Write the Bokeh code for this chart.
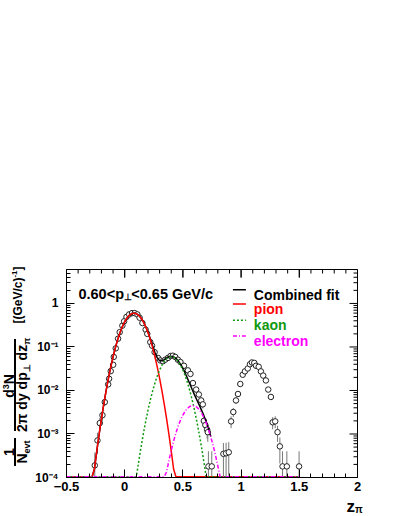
import math
from bokeh.plotting import figure
from bokeh.layouts import row, column
from bokeh.models import Range1d, FixedTicker, Label, Arrow, Div
from bokeh.core.properties import value
from bokeh.embed import file_html
from bokeh.resources import INLINE

# ---------------- data ----------------
z_data = [-0.257, -0.234, -0.214, -0.191, -0.171, -0.142, -0.134, -0.120, -0.099, -0.094,
          -0.077, -0.057, -0.043, -0.020, -0.005, 0.015, 0.038, 0.063, 0.086, 0.109,
          0.128, 0.152, 0.180, 0.194, 0.220, 0.235, 0.257, 0.286, 0.306, 0.329, 0.348,
          0.372, 0.394, 0.414, 0.434, 0.457, 0.479, 0.509, 0.543, 0.565, 0.586,
          0.614, 0.637, 0.657, 0.671, 0.680, 0.693, 0.708, 0.714, 0.719, 0.748,
          0.848, 0.871, 0.894, 0.914, 0.933, 0.956, 0.973, 0.993, 1.014, 1.033,
          1.057, 1.076, 1.093, 1.113, 1.128, 1.151, 1.170, 1.190, 1.213, 1.233,
          1.256, 1.271, 1.293, 1.313, 1.333, 1.356, 1.393, 1.498]
y_data = [1.9e-4, 7.1e-4, 1.78e-3, 2.7e-3, 5.4e-3, 1.38e-2, 1.86e-2, 2.78e-2, 3.9e-2, 5.9e-2,
          9.3e-2, 0.155, 0.219, 0.309, 0.389, 0.49, 0.56, 0.60, 0.60, 0.56,
          0.47, 0.355, 0.25, 0.20, 0.129, 0.107, 0.076, 0.056, 0.049, 0.047, 0.051,
          0.056, 0.062, 0.063, 0.059, 0.051, 0.045, 0.037, 0.029, 0.024, 0.0148,
          0.0105, 0.0081, 0.0059, 0.0048, 0.0020, 0.0016, 0.00126, 0.0011, 1.8e-4, 1.8e-4,
          3.5e-4, 3.6e-4, 3.8e-4, 1.95e-3, 3.2e-3, 5.9e-3, 8.3e-3, 1.41e-2, 2.3e-2, 2.75e-2,
          3.2e-2, 4.0e-2, 4.4e-2, 4.3e-2, 3.7e-2, 3.5e-2, 2.75e-2, 2.2e-2, 1.7e-2, 1.05e-2,
          7.1e-3, 1.86e-3, 1.95e-3, 1.1e-3, 5.2e-4, 1.8e-4, 1.8e-4, 1.8e-4]
y_err = [1.85e-4, 3.6e-4, 5.7e-4, 7.0e-4, 9.9e-4, 1.6e-3, 1.8e-3, 2.2e-3, 2.6e-3, 3.3e-3,
         4.1e-3, 5.3e-3, 6.3e-3, 7.5e-3, 8.4e-3, 9.4e-3, 1.0e-2, 1.0e-2, 1.0e-2, 1.0e-2,
         9.2e-3, 8.0e-3, 6.7e-3, 6.0e-3, 4.8e-3, 4.4e-3, 3.7e-3, 3.2e-3, 3.0e-3, 2.9e-3, 3.0e-3,
         3.2e-3, 3.3e-3, 3.4e-3, 3.3e-3, 3.0e-3, 2.8e-3, 2.6e-3, 2.3e-3, 2.1e-3, 1.6e-3,
         1.4e-3, 1.2e-3, 1.0e-3, 9.3e-4, 6.0e-4, 5.4e-4, 4.8e-4, 4.4e-4, 2.2e-4, 2.2e-4,
         2.7e-4, 2.7e-4, 2.7e-4, 5.9e-4, 7.6e-4, 1.0e-3, 1.2e-3, 1.6e-3, 2.0e-3, 2.2e-3,
         2.4e-3, 2.7e-3, 2.8e-3, 2.8e-3, 2.6e-3, 2.5e-3, 2.2e-3, 2.0e-3, 1.7e-3, 1.4e-3,
         1.1e-3, 5.8e-4, 5.9e-4, 4.4e-4, 3.1e-4, 2.2e-4, 2.2e-4, 2.2e-4]

fit_z = [-0.28, -0.26, -0.24, -0.22, -0.20, -0.18, -0.16, -0.14, -0.12, -0.10,
         -0.08, -0.06, -0.04, -0.02, 0.00, 0.02, 0.04, 0.06, 0.08, 0.10,
         0.12, 0.14, 0.16, 0.18, 0.20, 0.22, 0.24, 0.26, 0.28, 0.30,
         0.32, 0.34, 0.36, 0.38, 0.40, 0.42, 0.44, 0.46, 0.48, 0.50,
         0.52, 0.54, 0.56, 0.58, 0.60, 0.62, 0.64, 0.66, 0.68, 0.70,
         0.72, 0.74, 0.76, 0.78, 0.80, 0.82]
fit_pion = [5.8e-5, 1.57e-4, 4.02e-4, 9.74e-4, 2.23e-3, 4.82e-3, 9.84e-3, 1.90e-2, 3.45e-2, 5.94e-2,
            9.66e-2, 0.148, 0.215, 0.294, 0.380, 0.464, 0.535, 0.583, 0.600, 0.583,
            0.535, 0.464, 0.380, 0.294, 0.215, 0.148, 9.66e-2, 5.94e-2, 3.45e-2, 1.90e-2,
            9.84e-3, 4.82e-3, 2.23e-3, 9.74e-4, 4.02e-4, 1.57e-4, 5.8e-5, 2.0e-5, 6.6e-6, 0.0,
            0.0, 0.0, 0.0, 0.0, 0.0, 0.0, 0.0, 0.0, 0.0, 0.0,
            0.0, 0.0, 0.0, 0.0, 0.0, 0.0]
fit_kaon = [0.0, 0.0, 0.0, 0.0, 0.0, 0.0, 0.0, 0.0, 0.0, 0.0,
            0.0, 0.0, 0.0, 0.0, 0.0, 0.0, 6e-6, 1.6e-5, 4.2e-5, 1.0e-4,
            2.29e-4, 4.93e-4, 1.0e-3, 1.93e-3, 3.50e-3, 6.01e-3, 9.74e-3, 1.49e-2, 2.16e-2, 2.95e-2,
            3.81e-2, 4.65e-2, 5.36e-2, 5.83e-2, 6.00e-2, 5.83e-2, 5.36e-2, 4.65e-2, 3.81e-2, 2.95e-2,
            2.16e-2, 1.49e-2, 9.74e-3, 6.01e-3, 3.50e-3, 1.93e-3, 1.0e-3, 4.93e-4, 2.29e-4, 1.0e-4,
            4.2e-5, 1.6e-5, 6e-6, 0.0, 0.0, 0.0]
fit_electron = [0.0, 0.0, 0.0, 0.0, 0.0, 0.0, 0.0, 0.0, 0.0, 0.0,
                0.0, 0.0, 0.0, 0.0, 0.0, 0.0, 0.0, 0.0, 0.0, 0.0,
                0.0, 0.0, 0.0, 0.0, 0.0, 0.0, 0.0, 0.0, 0.0, 1.6e-5,
                3.5e-5, 7.1e-5, 1.35e-4, 2.45e-4, 4.21e-4, 6.84e-4, 1.05e-3, 1.53e-3, 2.10e-3, 2.73e-3,
                3.36e-3, 3.91e-3, 4.31e-3, 4.49e-3, 4.43e-3, 4.13e-3, 3.65e-3, 3.05e-3, 2.41e-3, 1.80e-3,
                1.27e-3, 8.53e-4, 5.41e-4, 3.24e-4, 1.84e-4, 9.8e-5]
combined_zmax = 0.74

x_ticks = [-0.5, 0, 0.5, 1, 1.5, 2]
y_ticks = [1e-4, 1e-3, 1e-2, 1e-1, 1]
y_tick_labels = ["10\u207b\u2074", "10\u207b\u00b3", "10\u207b\u00b2", "10\u207b\u00b9", "1"]
legend_labels = ["Combined fit", "pion", "kaon", "electron"]
bin_label = ["0.60<p", "\u22a5", "<0.65 GeV/c"]

# ---------------- styling / layout ----------------
FONT = "Liberation Sans"
X0, X1 = -0.5, 2.0
Y0, Y1 = 1e-4, 6.03
FLOOR = 1.04e-4
C_PION, C_KAON, C_ELEC = "#ff0000", "#119911", "#ff00ff"

PAGE_W = 392
LW = 32                 # left strip (y-axis title)
BH = 18                 # bottom strip (x-axis title)
W, H = PAGE_W - LW, 497  # main figure
PAGE_FL, PAGE_FT = 65, 269
FW, FH = 292, 208
ML = PAGE_FL - LW
MT = PAGE_FT
MR, MB = W - ML - FW, H - MT - FH

p = figure(width=W, height=H, x_range=Range1d(X0, X1), y_range=Range1d(Y0, Y1),
           y_axis_type="log", output_backend="svg", toolbar_location=None,
           min_border_left=ML, min_border_right=MR, min_border_top=MT, min_border_bottom=MB,
           background_fill_color="white", border_fill_color="white", margin=(0, 0, 0, 0))
p.xgrid.visible = False
p.ygrid.visible = False
p.outline_line_color = "black"

x_minor = [round(-0.5 + 0.1 * i, 2) for i in range(26)]
y_minor = [m * 10.0 ** e for e in range(-4, 1) for m in range(2, 10)]
xt = FixedTicker(ticks=x_ticks, minor_ticks=x_minor)
yt = FixedTicker(ticks=y_ticks, minor_ticks=y_minor)

MAJ, MIN = 8, 4


def style_axis(ax, size):
    ax.major_tick_in = MAJ
    ax.major_tick_out = 0
    ax.minor_tick_in = MIN
    ax.minor_tick_out = 0
    ax.axis_line_color = "black"
    ax.major_tick_line_color = "black"
    ax.minor_tick_line_color = "black"
    ax.major_label_text_font = FONT
    ax.major_label_text_font_style = "bold"
    ax.major_label_text_color = "black"
    ax.major_label_text_font_size = size


bx = p.below[0]
bx.ticker = xt
style_axis(bx, "13px")
bx.major_label_standoff = 4

ly = p.left[0]
ly.ticker = yt
style_axis(ly, "12px")
ly.major_label_standoff = 8
ly.major_label_overrides = {t: s for t, s in zip(y_ticks, y_tick_labels)}

PX_PER_UNIT = FW / (X1 - X0)
PX_PER_DEC = FH / math.log10(Y1 / Y0)

# mirrored ticks on top and right edges of the frame
top_x = x_ticks + x_minor
top_len = [MAJ if t in x_ticks else MIN for t in top_x]
p.segment(x0=top_x, y0=[Y1] * len(top_x), x1=top_x,
          y1=[Y1 * 10 ** (-L / PX_PER_DEC) for L in top_len], line_color="black", line_width=1)
right_y = y_ticks + y_minor
right_len = [MAJ if t in y_ticks else MIN for t in right_y]
p.segment(x0=[X1] * len(right_y), y0=right_y, x1=[X1 - L / PX_PER_UNIT for L in right_len],
          y1=right_y, line_color="black", line_width=1)

# ---------------- data points ----------------
lo = [max(v - e, 1e-5) for v, e in zip(y_data, y_err)]
hi = [v + e for v, e in zip(y_data, y_err)]
p.segment(x0=z_data, y0=lo, x1=z_data, y1=hi, line_color="#777777", line_width=1)
p.scatter(x=z_data, y=y_data, marker="circle", size=5.5, line_color="#222222",
          fill_color="white", line_width=1)

# ---------------- fit curves ----------------
comb_z = [z for z in fit_z if z <= combined_zmax + 1e-9]
comb_y = [max(a + b + c, FLOOR) for z, a, b, c in zip(fit_z, fit_pion, fit_kaon, fit_electron)
          if z <= combined_zmax + 1e-9]
p.line(comb_z, comb_y, line_color="black", line_width=1.5)


def comp(vals):
    xs = [X0] + fit_z + [1.5]
    ys = [FLOOR] + [max(v, FLOOR) for v in vals] + [FLOOR]
    return xs, ys


xs, ys = comp(fit_pion)
p.line(xs, ys, line_color=C_PION, line_width=1.5)
xs, ys = comp(fit_kaon)
p.line(xs, ys, line_color=C_KAON, line_width=1.5, line_dash="2 2")
xs, ys = comp(fit_electron)
p.line(xs, ys, line_color=C_ELEC, line_width=1.5, line_dash="4 2 1 2")

# ---------------- helpers: page pixel -> main-plot data coords ----------------
PAGE_FB = PAGE_FT + FH


def dx(px):
    return X0 + (px - PAGE_FL) / PX_PER_UNIT


def dy(py):
    return Y0 * 10 ** ((PAGE_FB - py) / PX_PER_DEC)


def lab(fig, x, y, text, size, color="black"):
    fig.add_layout(Label(x=x, y=y, text=text, text_font=FONT, text_font_style="bold",
                         text_font_size=size, text_color=color, text_align="left",
                         text_baseline="alphabetic"))


def seg(fig, x0, y0, x1, y1, color="black", dash="solid", width=1.5):
    fig.add_layout(Arrow(end=None, x_start=x0, y_start=y0, x_end=x1, y_end=y1,
                         line_color=color, line_width=width, line_dash=dash))


# bin label
lab(p, dx(77), dy(293), bin_label[0], "14.5px")
lab(p, dx(122.5), dy(296.5), bin_label[1], "9px")
lab(p, dx(130), dy(293), bin_label[2], "14.5px")

# legend
leg_colors = ["black", C_PION, C_KAON, C_ELEC]
leg_dash = ["solid", "solid", "2 2", "4 2 1 2"]
leg_y = [289.3, 303.5, 319.8, 335.5]
for t, c, d, yy in zip(legend_labels, leg_colors, leg_dash, leg_y):
    seg(p, dx(232), dy(yy), dx(245), dy(yy), c, d)
    lab(p, dx(253), dy(yy + 5), t, "14px", color=c)

# ---------------- y-axis title: HTML text, rotated by CSS ----------------
ASC = 0.8465  # baseline position inside a line-height:1 box (Liberation Sans)


def sub(t, size=9, shift=3):
    return f'<span style="font-size:{size}px;position:relative;top:{shift}px;">{t}</span>'


def item(py_center, px_baseline, html, size):
    u = H - py_center
    top = px_baseline - ASC * size
    return (f'<div style="position:absolute;left:{u:.1f}px;top:{top:.1f}px;'
            f'transform:translateX(-50%);font-size:{size}px;line-height:1;'
            f'white-space:nowrap;">{html}</div>')


def bar(py0, py1, px):
    u0 = H - py1
    return (f'<div style="position:absolute;left:{u0:.1f}px;top:{px - 0.75:.1f}px;'
            f'width:{py1 - py0:.1f}px;height:1.5px;background:black;"></div>')


parts = [
    item(295, 22, "[(GeV/c)" + sub("-1", 8, -5) + "]", 12),
    item(386, 13.5, "d" + sub("3", 9, -5) + "N", 14),
    bar(339, 431, 15),
    item(385, 27, "2\u03c0 dy dp" + sub("\u22a5") + " dz" + sub("\u03c0"), 14),
    item(452, 13.5, "1", 14),
    bar(438, 466, 15),
    item(452, 27, "N" + sub("evt"), 14),
]
html = (f'<div style="position:relative;width:{LW}px;height:{H}px;overflow:visible;">'
        f'<div style="position:absolute;left:0;top:0;width:{H}px;height:{LW}px;'
        f'transform-origin:0 0;transform:translate(0px,{H}px) rotate(-90deg);'
        f"font-family:'{FONT}',Arial,sans-serif;font-weight:bold;color:black;\">"
        + "".join(parts) + "</div></div>")
left = Div(text=html, width=LW, height=H, margin=(0, 0, 0, 0),
           styles={"margin": "0px", "padding": "0px"})

# ---------------- x-axis title strip ----------------
bottom = figure(width=PAGE_W, height=BH, x_range=Range1d(0, PAGE_W), y_range=Range1d(0, BH),
                output_backend="svg", toolbar_location=None, x_axis_location=None,
                y_axis_location=None, min_border=0, outline_line_color=None,
                background_fill_color="white", border_fill_color="white", margin=(0, 0, 0, 0))
bottom.grid.visible = False


def btext(px, py, text, size):
    bottom.text(x=[px], y=[H + BH - py], text=[text], text_font=value(FONT),
                text_font_style=value("bold"), text_font_size=value(size),
                text_color="black", text_align="left", text_baseline="alphabetic")


btext(346, 506, "z", "17px")
btext(354.5, 509, "\u03c0", "10px")

layout = column(row(left, p, margin=(0, 0, 0, 0)), bottom, margin=(0, 0, 0, 0))
open("out.html", "w").write(file_html(layout, INLINE))
